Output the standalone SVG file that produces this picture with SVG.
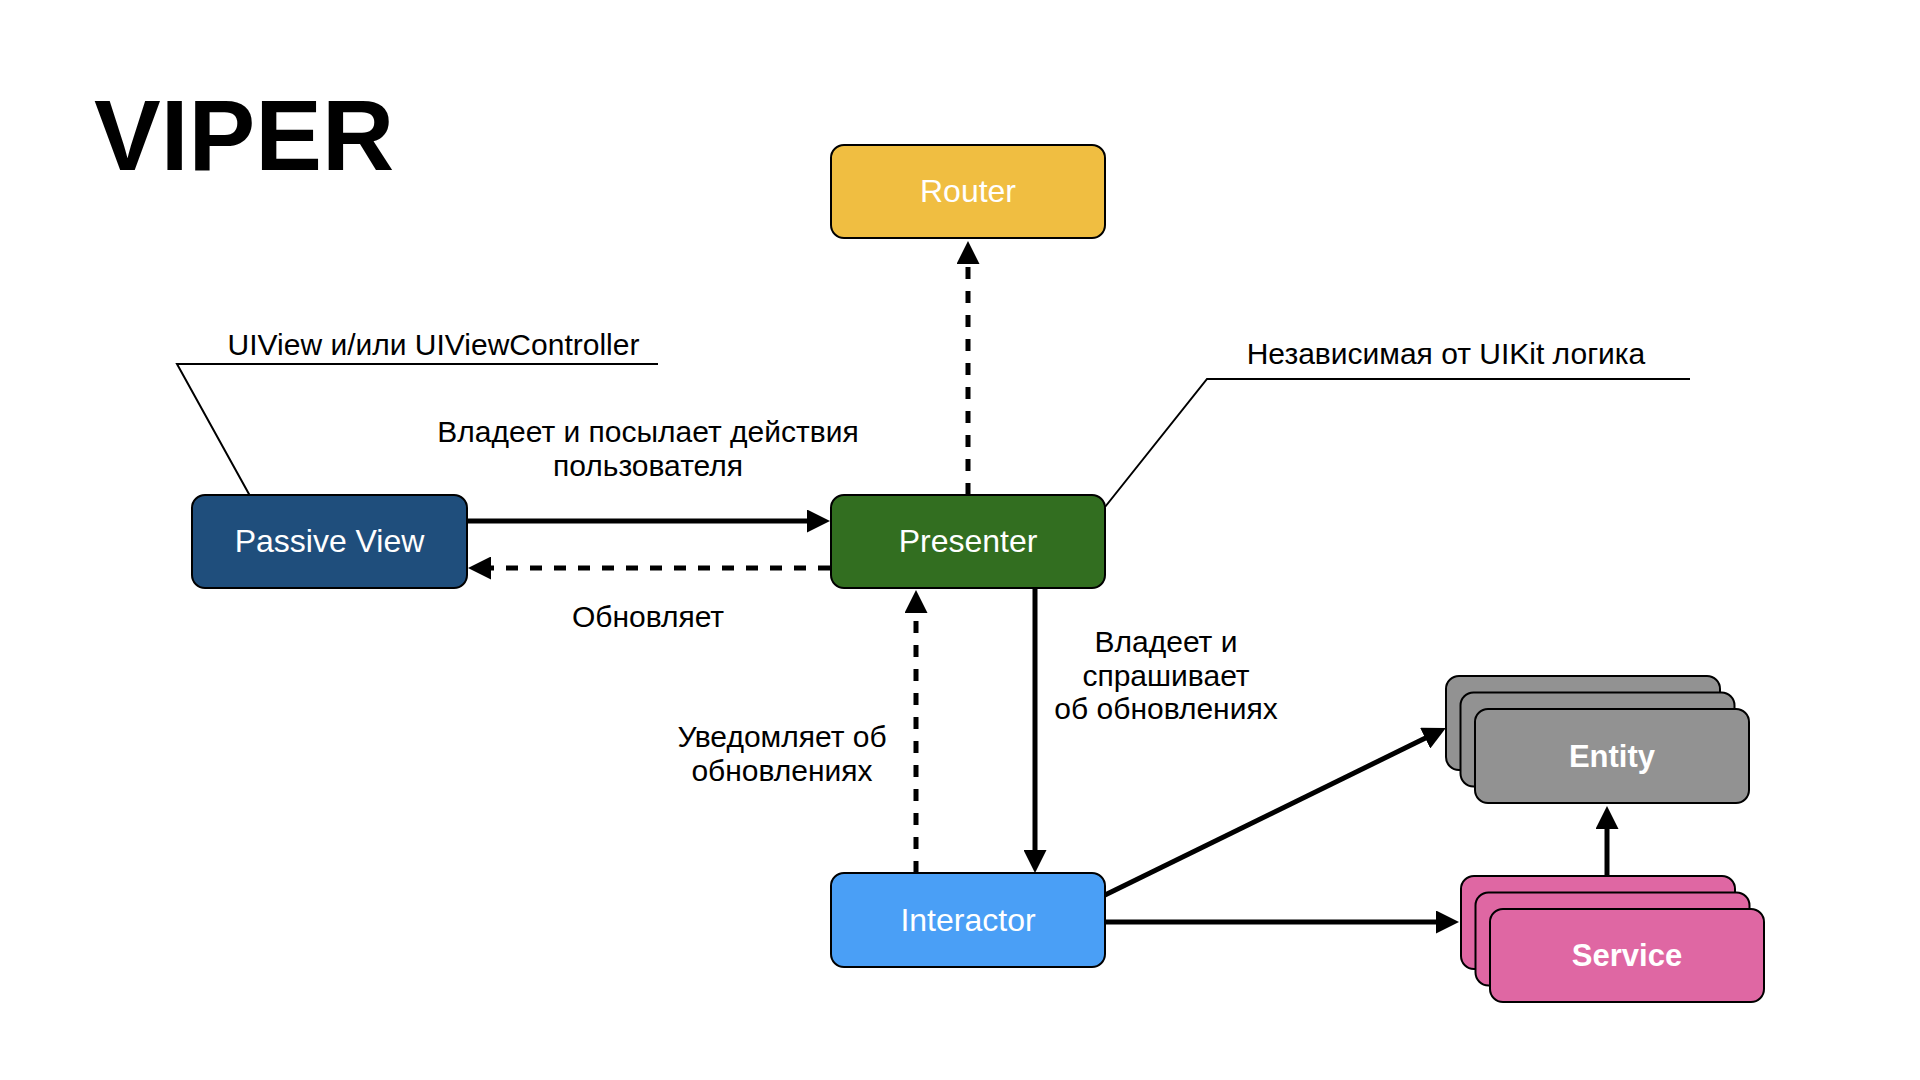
<svg xmlns="http://www.w3.org/2000/svg" width="1920" height="1080" viewBox="0 0 1920 1080">
<style>
.box{stroke:#000;stroke-width:2}
.nt{font-family:"Liberation Sans",Arial,Helvetica,sans-serif;font-size:32px;fill:#fff;text-anchor:middle}
.ntb{font-weight:bold;font-size:31px}
.lbl{font-family:"Liberation Sans",Arial,Helvetica,sans-serif;font-size:30px;fill:#000;text-anchor:middle}
.c{stroke:#000;stroke-width:5;fill:none}
.d{stroke-dasharray:12 12}
.lead{stroke:#000;stroke-width:2;fill:none}
</style>
<defs>
<marker id="ah" viewBox="0 0 23 23" markerUnits="userSpaceOnUse" markerWidth="23" markerHeight="23" refX="2" refY="11.5" orient="auto">
<path d="M0,0 L23,11.5 L0,23 Z" fill="#000"/>
</marker>
</defs>
<rect width="1920" height="1080" fill="#fff"/>
<text x="94" y="170" font-family="Liberation Sans,Arial,Helvetica,sans-serif" font-size="100" font-weight="bold" fill="#000">VIPER</text>

<g id="connectors">
<line class="c" x1="467" y1="521" x2="809" y2="521" marker-end="url(#ah)"/>
<line class="c d" x1="830" y1="568" x2="489" y2="568" marker-end="url(#ah)"/>
<line class="c d" x1="968" y1="495" x2="968" y2="262" marker-end="url(#ah)"/>
<line class="c" x1="1035" y1="588" x2="1035" y2="852" marker-end="url(#ah)"/>
<line class="c d" x1="916" y1="873" x2="916" y2="611" marker-end="url(#ah)"/>
<line class="c" x1="1105" y1="895" x2="1427" y2="737.3" marker-end="url(#ah)"/>
<line class="c" x1="1105" y1="922" x2="1438" y2="922" marker-end="url(#ah)"/>
<line class="c" x1="1607" y1="876" x2="1607" y2="827" marker-end="url(#ah)"/>
<polyline class="lead" points="249.5,495 177,364 658,364"/>
<polyline class="lead" points="1105,507 1207,379 1690,379"/>
</g>

<g id="router">
<rect class="box" x="831" y="145" width="274" height="93" rx="13" fill="#F0BE41"/>
<text class="nt" x="968" y="202">Router</text>
</g>
<g id="passive-view">
<rect class="box" x="192" y="495" width="275" height="93" rx="13" fill="#1F4E7C"/>
<text class="nt" x="329.5" y="552">Passive View</text>
</g>
<g id="presenter">
<rect class="box" x="831" y="495" width="274" height="93" rx="13" fill="#326E20"/>
<text class="nt" x="968" y="552">Presenter</text>
</g>
<g id="interactor">
<rect class="box" x="831" y="873" width="274" height="94" rx="13" fill="#4A9FF6"/>
<text class="nt" x="968" y="931">Interactor</text>
</g>
<g id="entity">
<rect class="box" x="1446" y="676" width="274" height="94" rx="13" fill="#929292"/>
<rect class="box" x="1460.5" y="692.5" width="274" height="94" rx="13" fill="#929292"/>
<rect class="box" x="1475" y="709" width="274" height="94" rx="13" fill="#929292"/>
<text class="nt ntb" x="1612" y="767">Entity</text>
</g>
<g id="service">
<rect class="box" x="1461" y="876" width="274" height="93" rx="13" fill="#DF67A3"/>
<rect class="box" x="1475.5" y="892.5" width="274" height="93" rx="13" fill="#DF67A3"/>
<rect class="box" x="1490" y="909" width="274" height="93" rx="13" fill="#DF67A3"/>
<text class="nt ntb" x="1627" y="966">Service</text>
</g>

<g id="labels">
<text class="lbl" x="433.5" y="355">UIView и/или UIViewController</text>
<text class="lbl" x="1446" y="364">Независимая от UIKit логика</text>
<text class="lbl" x="648" y="442">Владеет и посылает действия</text>
<text class="lbl" x="648" y="476">пользователя</text>
<text class="lbl" x="648" y="627">Обновляет</text>
<text class="lbl" x="1166" y="652">Владеет и</text>
<text class="lbl" x="1166" y="686">спрашивает</text>
<text class="lbl" x="1166" y="719">об обновлениях</text>
<text class="lbl" x="782" y="747">Уведомляет об</text>
<text class="lbl" x="782" y="781">обновлениях</text>
</g>
</svg>
